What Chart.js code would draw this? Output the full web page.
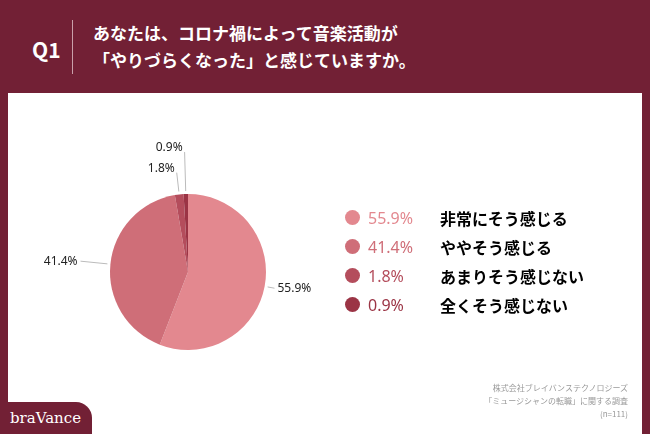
<!DOCTYPE html>
<html><head><meta charset="utf-8">
<script src="https://cdn.jsdelivr.net/npm/chart.js@4"></script>
<style>
body{margin:0;width:650px;height:434px;background:#722035;position:relative;overflow:hidden;font-family:"Noto Sans CJK JP",sans-serif}
#q{position:absolute;left:32px;top:34px;color:#fff;font-size:21px;font-weight:bold;font-family:"Noto Sans CJK JP"}
#sep{position:absolute;left:72px;top:20px;width:1px;height:54px;background:#c9a0aa}
#title{position:absolute;left:93px;top:19px;color:#fff;font-size:17px;font-weight:bold;line-height:27px}
#panel{position:absolute;left:8px;top:93px;width:634px;height:341px;background:#fff}
#cw{position:absolute;left:8px;top:93px;width:634px;height:341px}
#leg{position:absolute;left:345px;top:203px;font-size:16px;font-weight:bold}
.r{height:29px;display:flex;align-items:center}
.d{width:15px;height:15px;border-radius:50%;margin-right:8px}
.p{width:72px;font-family:"Noto Sans";font-weight:400;font-size:16px}
#src{position:absolute;right:22px;top:381px;text-align:right;color:#999;font-size:8px;line-height:13px}
#logo{position:absolute;left:0;top:402px;width:92px;height:32px;background:#722035;border-top-right-radius:16px;color:#fff;font-family:"DejaVu Serif",serif;font-size:15px;line-height:32px;padding-left:10px;box-sizing:border-box}
</style></head><body>
<div id="q">Q1</div><div id="sep"></div>
<div id="title">あなたは、コロナ禍によって音楽活動が<br>「やりづらくなった」と感じていますか。</div>
<div id="panel"></div>
<div id="cw"><canvas id="c"></canvas></div>
<div id="leg"></div>
<div id="src">株式会社ブレイバンステクノロジーズ<br>「ミュージシャンの転職」に関する調査<br>(n=111)</div>
<div id="logo">braVance</div>
<script>
const categories=["非常にそう感じる","ややそう感じる","あまりそう感じない","全くそう感じない"];
const values=[55.9,41.4,1.8,0.9];
const colors=["#e3888f","#cf6e78","#b44d5c","#9b3445"];
const leg=document.getElementById('leg');
categories.forEach((c,i)=>{leg.innerHTML+=`<div class="r"><div class="d" style="background:${colors[i]}"></div><div class="p" style="color:${colors[i]}">${values[i].toFixed(1)}%</div><div>${c}</div></div>`;});
const lbl={id:'lbl',afterDatasetsDraw(ch){const ctx=ch.ctx;const arcs=ch.getDatasetMeta(0).data;
ctx.save();ctx.font='12px "Noto Sans"';ctx.fillStyle='#222';ctx.strokeStyle='#bbb';ctx.lineWidth=1;
arcs.forEach((a,i)=>{const mid=(a.startAngle+a.endAngle)/2;const r=a.outerRadius;
let ext=[10,30,22,42][i];
const x1=a.x+Math.cos(mid)*(r+3),y1=a.y+Math.sin(mid)*(r+3);
const x2=a.x+Math.cos(mid)*(r+ext),y2=a.y+Math.sin(mid)*(r+ext);
ctx.beginPath();ctx.moveTo(x1,y1);ctx.lineTo(x2,y2);ctx.stroke();
const t=values[i].toFixed(1)+'%';const right=Math.cos(mid)>0.2;
ctx.textBaseline='middle';ctx.textAlign=right?'left':'right';
let tx=right?x2+3:x2-3,ty=y2;if(i>=2){ctx.textAlign='right';tx=x2-2;ty=y2-4;}
ctx.fillText(t,tx,ty);});ctx.restore();}};
new Chart(document.getElementById('c'),{type:'pie',data:{labels:categories,datasets:[{data:values,backgroundColor:colors,borderWidth:0}]},
options:{responsive:true,maintainAspectRatio:false,animation:false,plugins:{legend:{display:false},tooltip:{enabled:false}},
layout:{padding:{left:102,right:376,top:101,bottom:84}}},plugins:[lbl]});
</script></body></html>
